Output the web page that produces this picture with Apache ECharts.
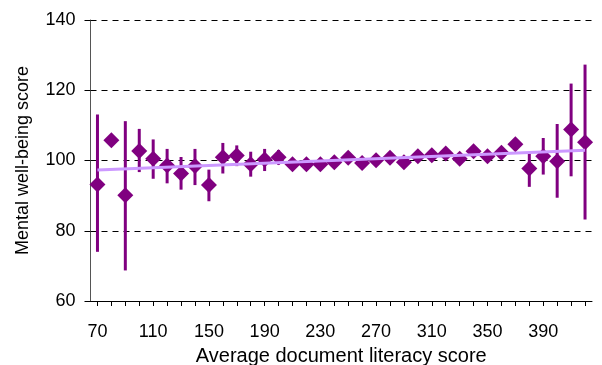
<!DOCTYPE html>
<html>
<head>
<meta charset="utf-8">
<script src="https://cdn.jsdelivr.net/npm/echarts@6/dist/echarts.min.js"></script>
<style>
html,body{margin:0;padding:0;background:#fff;}
#chart{width:602px;height:365px;}
</style>
</head>
<body>
<div id="chart"></div>
<script>
var categories = ['70','80','90','100','110','120','130','140','150','160','170','180','190','200','210','220','230','240','250','260','270','280','290','300','310','320','330','340','350','360','370','380','390','400','410','420'];
var meanScores = [93.2,105.8,90.1,102.7,100.5,98.6,96.3,98.4,93.0,100.9,101.4,98.9,100.3,100.9,98.9,98.9,98.9,99.5,100.8,99.3,100.1,100.8,99.5,101.2,101.5,102.0,100.5,102.6,101.2,102.2,104.6,97.7,101.2,99.8,108.8,105.2];
var upperBounds = [113.1,107.3,111.2,109.0,106.0,103.3,101.0,103.3,97.4,105.0,104.3,102.5,103.3,103.0,100.6,100.4,100.4,101.0,102.3,100.8,101.6,102.3,101.0,102.7,103.0,103.5,102.0,104.1,102.7,103.7,106.1,102.0,106.4,110.4,121.9,127.3];
var lowerBounds = [74.0,104.3,68.7,96.7,94.8,93.5,91.7,93.0,88.4,96.3,98.4,95.4,97.0,98.8,97.2,97.4,97.4,98.0,99.3,97.8,98.6,99.3,98.0,99.7,100.0,100.5,99.0,101.1,99.7,100.7,103.1,92.5,96.0,89.4,95.5,83.2];
var trendStart = 97.3;
var trendEnd = 102.9;
var yTicks = {min: 60, max: 140, step: 20};

var errData = categories.map(function(c, i){ return [i, lowerBounds[i], upperBounds[i]]; });

var chart = echarts.init(document.getElementById('chart'), null, {renderer: 'canvas'});
chart.setOption({
  animation: false,
  backgroundColor: '#fff',
  textStyle: {fontFamily: 'Liberation Sans, Arial, sans-serif'},
  grid: {left: 90.5, right: 10, top: 20, bottom: 64, containLabel: false, outerBoundsMode: 'none'},
  xAxis: {
    type: 'category',
    data: categories,
    boundaryGap: true,
    name: 'Average document literacy score',
    nameLocation: 'middle',
    nameGap: 45,
    nameTextStyle: {fontSize: 20, color: '#000'},
    axisLine: {lineStyle: {color: '#000', width: 1}},
    axisTick: {show: true, alignWithLabel: true, interval: 0, length: 5, lineStyle: {color: '#000'}},
    axisLabel: {interval: 3, fontSize: 18, color: '#000', margin: 22},
    splitLine: {show: false}
  },
  yAxis: {
    type: 'value',
    min: yTicks.min, max: yTicks.max, interval: yTicks.step,
    name: 'Mental well-being score',
    nameLocation: 'middle',
    nameGap: 58,
    nameTextStyle: {fontSize: 18, color: '#000'},
    axisLine: {show: true, lineStyle: {color: '#555', width: 1}},
    axisTick: {show: true, length: 6, lineStyle: {color: '#000'}},
    axisLabel: {fontSize: 18, color: '#000', margin: 15},
    splitLine: {show: true, lineStyle: {color: '#000', type: [6, 5], width: 1}}
  },
  series: [
    {
      type: 'custom',
      z: 2,
      data: errData,
      encode: {x: 0, y: [1, 2]},
      renderItem: function(params, api){
        var x = api.value(0);
        var lo = api.coord([x, api.value(1)]);
        var hi = api.coord([x, api.value(2)]);
        return {
          type: 'line',
          shape: {x1: lo[0], y1: lo[1], x2: hi[0], y2: hi[1]},
          style: {stroke: '#800080', lineWidth: 3}
        };
      }
    },
    {
      type: 'scatter',
      z: 3,
      data: meanScores,
      symbol: 'diamond',
      symbolSize: [16, 16],
      itemStyle: {color: '#800080', opacity: 1}
    },
    {
      type: 'line',
      z: 4,
      data: [[categories[0], trendStart], [categories[categories.length - 1], trendEnd]],
      symbol: 'none',
      lineStyle: {color: '#CC99FF', width: 3},
      silent: true
    }
  ]
});
</script>
</body>
</html>
